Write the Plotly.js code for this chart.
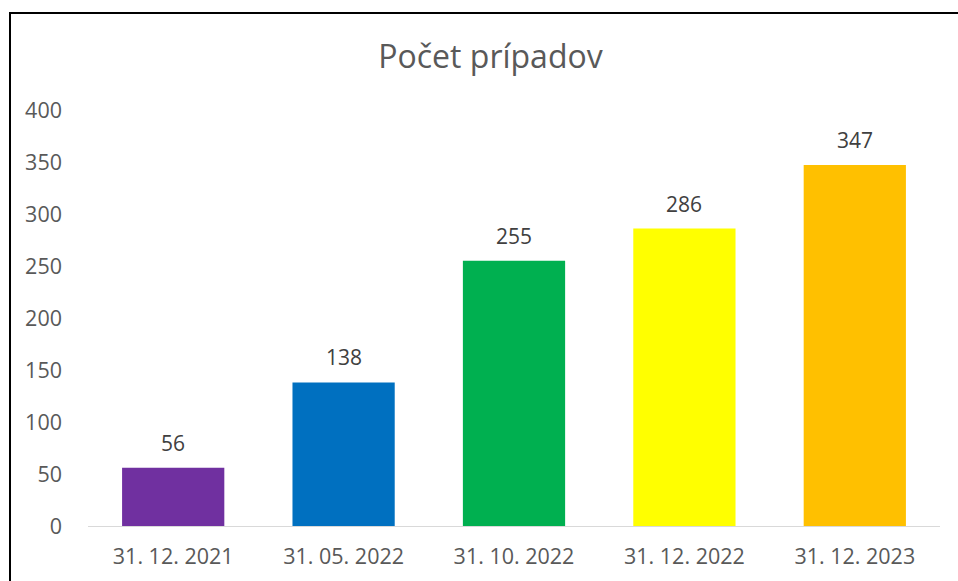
<!DOCTYPE html>
<html>
<head>
<meta charset="utf-8">
<script src="https://cdn.plot.ly/plotly-3.0.1.min.js"></script>
<style>
  html, body { margin: 0; padding: 0; background: #fff; }
  #wrap { position: relative; width: 958px; height: 581px; overflow: hidden; }
  #plot { width: 958px; height: 581px; }
  #frame {
    position: absolute; left: 9px; top: 12px; width: 1000px; height: 600px;
    border-left: 2px solid #000; border-top: 2px solid #000; pointer-events: none;
  }
</style>
</head>
<body>
<div id="wrap">
  <div id="plot"></div>
  <div id="frame"></div>
</div>
<script>
// chart data
const dates = ['31. 12. 2021', '31. 05. 2022', '31. 10. 2022', '31. 12. 2022', '31. 12. 2023'];
const cases = [56, 138, 255, 286, 347];
const barColors = ['#7030A0', '#0070C0', '#00B050', '#FFFF00', '#FFC000'];
const yTicks = [0, 50, 100, 150, 200, 250, 300, 350, 400];

const font = '"Open Sans", "Noto Sans", sans-serif';

const data = [{
  type: 'bar',
  x: dates,
  y: cases,
  marker: { color: barColors },
  width: 0.6,
  hoverinfo: 'x+y'
}];

// value labels above the bars
const labels = dates.map((d, i) => ({
  x: d,
  y: cases[i],
  text: String(cases[i]),
  showarrow: false,
  yanchor: 'bottom',
  yshift: 9,
  font: { family: font, size: 21, color: '#404040' }
}));

const layout = {
  width: 958,
  height: 581,
  paper_bgcolor: '#fff',
  plot_bgcolor: '#fff',
  font: { family: font, color: '#595959' },
  showlegend: false,
  title: {
    text: 'Počet prípadov',
    font: { family: font, size: 32, color: '#595959' },
    x: 0.512, xanchor: 'center',
    y: 0.902, yanchor: 'middle'
  },
  margin: { l: 88, r: 18, t: 110, b: 55 },
  xaxis: {
    type: 'category',
    showline: true,
    linecolor: '#d9d9d9',
    linewidth: 1,
    showgrid: false,
    ticks: '',
    tickfont: { family: font, size: 21.5, color: '#595959' },
    ticklabelstandoff: 11
  },
  yaxis: {
    range: [0, 400],
    tickvals: yTicks,
    showgrid: false,
    zeroline: false,
    showline: false,
    ticks: '',
    tickfont: { family: font, size: 21.5, color: '#595959' },
    ticklabelstandoff: 25
  },
  annotations: labels,
  bargap: 0.4
};

Plotly.newPlot('plot', data, layout, { displayModeBar: false, staticPlot: true });
</script>
</body>
</html>
